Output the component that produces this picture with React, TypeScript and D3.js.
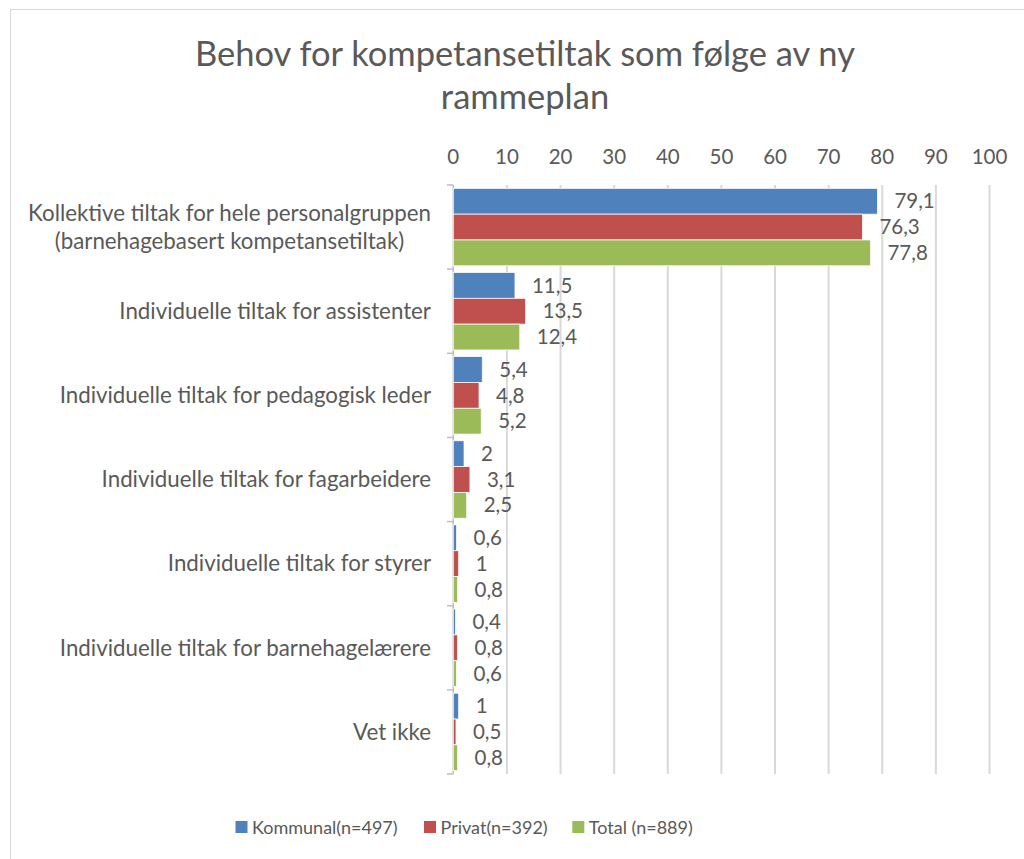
import React from "react";
import * as d3 from "d3";

const categories = [
  ["Kollektive tiltak for hele personalgruppen", "(barnehagebasert kompetansetiltak)"],
  ["Individuelle tiltak for assistenter"],
  ["Individuelle tiltak for pedagogisk leder"],
  ["Individuelle tiltak for fagarbeidere"],
  ["Individuelle tiltak for styrer"],
  ["Individuelle tiltak for barnehagelærere"],
  ["Vet ikke"],
];
const seriesNames = ["Kommunal(n=497)", "Privat(n=392)", "Total (n=889)"];
const kommunal = [79.1, 11.5, 5.4, 2, 0.6, 0.4, 1];
const privat = [76.3, 13.5, 4.8, 3.1, 1, 0.8, 0.5];
const total = [77.8, 12.4, 5.2, 2.5, 0.8, 0.6, 0.8];
const xTicks = [0, 10, 20, 30, 40, 50, 60, 70, 80, 90, 100];
const titleLines = ["Behov for kompetansetiltak som følge av ny", "rammeplan"];

const colors = ["#4F81BD", "#C0504D", "#9BBB59"];
const textColor = "#595959";
const FONT = "Lato, 'Open Sans', sans-serif";

export default function App() {
  const W = 1024, H = 859;
  const series = [kommunal, privat, total];
  const x = d3.scaleLinear().domain([0, 100]).range([453.3, 989.5]);
  const y = d3.scaleBand<number>().domain(d3.range(categories.length)).range([185, 774]);
  const inner = d3.scaleBand<number>().domain([0, 1, 2]).range([0, y.bandwidth()]).paddingOuter(0.13).paddingInner(0);
  const fmt = (v: number) => String(v).replace(".", ",");

  const legendX = [235.5, 424, 572.3];

  return (
    <svg width={W} height={H} style={{ position: "absolute", left: 0, top: 0 }} fontFamily={FONT}>
      <rect x={0} y={0} width={W} height={H} fill="#fff" />
      <rect x={10.5} y={9.5} width={W + 20} height={H + 20} fill="none" stroke="#d9d9d9" strokeWidth={1} />
      {titleLines.map((t, i) => (
        <text key={i} x={525} y={66 + i * 43} textAnchor="middle" fontSize={34.5} fill={textColor}>{t}</text>
      ))}
      {xTicks.map((t) => (
        <g key={t}>
          <line x1={x(t)} x2={x(t)} y1={185} y2={774} stroke="#d9d9d9" strokeWidth={t === 0 ? 0 : 2} />
          <text x={x(t)} y={164} textAnchor="middle" fontSize={20.5} fill={textColor}>{t}</text>
        </g>
      ))}
      <line x1={x(0)} x2={x(0)} y1={185} y2={774} stroke="#bfbfbf" strokeWidth={1.5} />
      {d3.range(categories.length + 1).map((i) => {
        const yy = 185 + i * y.step();
        return <line key={i} x1={447} x2={x(0)} y1={yy} y2={yy} stroke="#bfbfbf" strokeWidth={1.5} />;
      })}
      {categories.map((lines, ci) => {
        const cy = (y(ci) as number) + y.bandwidth() / 2;
        const lh = 28.5;
        const n = lines.length;
        return (
          <g key={ci}>
            {lines.map((l, li) => (
              <text key={li} x={n > 1 ? 229.5 : 431} y={cy + (li - (n - 1) / 2) * lh} dy="0.35em"
                textAnchor={n > 1 ? "middle" : "end"} fontSize={22.3} fill={textColor}>{l}</text>
            ))}
          </g>
        );
      })}
      {series.map((vals, si) => (
        <g key={si}>
          {vals.map((v, ci) => {
            const by = (y(ci) as number) + (inner(si) as number);
            return (
              <g key={ci}>
                <rect x={x(0)} y={by} width={x(v) - x(0)} height={inner.bandwidth()} fill={colors[si]} stroke="#fff" strokeWidth={0.75} />
                <text x={x(v) + 17} y={by + inner.bandwidth() / 2} dy="0.35em" fontSize={20.5} fill={textColor}>{fmt(v)}</text>
              </g>
            );
          })}
        </g>
      ))}
      {seriesNames.map((n, i) => (
        <g key={n}>
          <rect x={legendX[i]} y={821} width={12} height={12} fill={colors[i]} />
          <text x={legendX[i] + 16.5} y={827.5} dy="0.35em" fontSize={18} fill={textColor}>{n}</text>
        </g>
      ))}
    </svg>
  );
}
